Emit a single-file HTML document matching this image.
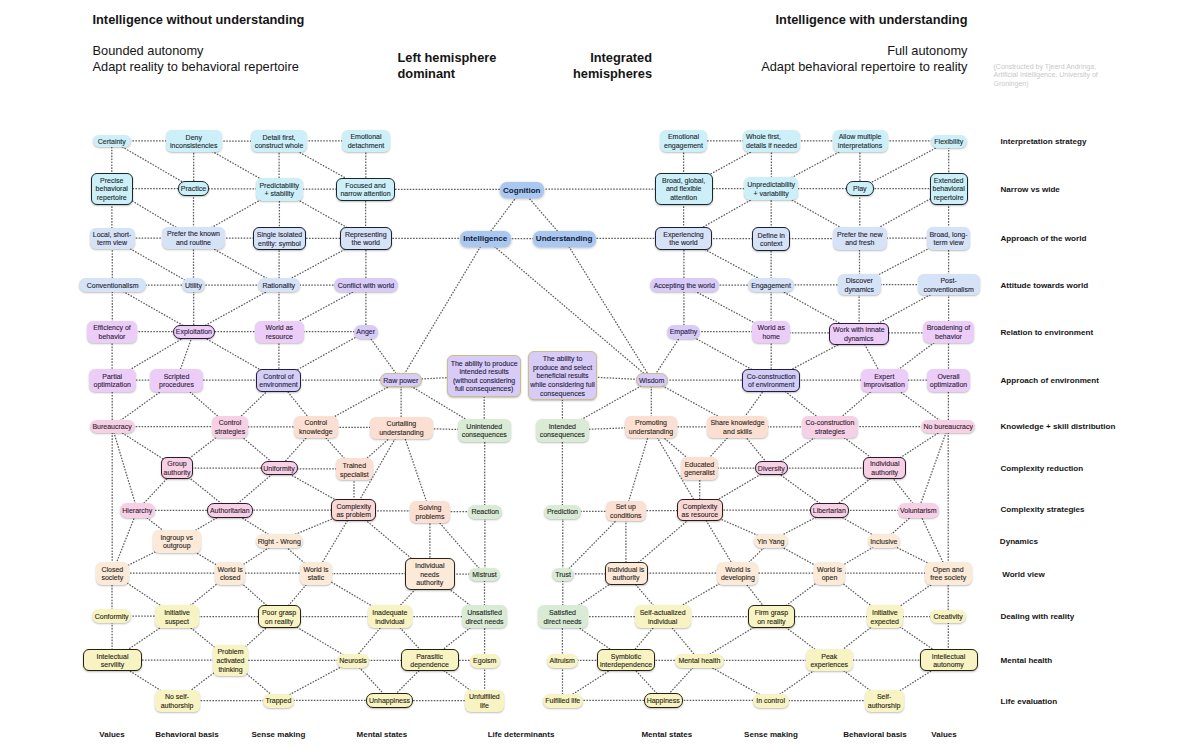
<!DOCTYPE html>
<html><head><meta charset="utf-8"><style>
*{margin:0;padding:0;box-sizing:border-box}
html,body{width:1200px;height:750px;overflow:hidden;background:#fff}
body{position:relative;font-family:"Liberation Sans",sans-serif;color:#151515}
svg{position:absolute;left:0;top:0}
svg line{stroke:#5e5e5e;stroke-width:1.25;stroke-dasharray:1.6 1.35}
.n{position:absolute;display:flex;align-items:center;justify-content:center;text-align:center;font-size:7px;line-height:8.6px;border-radius:5px;box-shadow:0 1px 2px rgba(0,0,0,0.26);white-space:nowrap}
.n.b{border-width:1.6px;border-style:solid}
.n.bd{font-weight:bold;font-size:8px}
.n.bd span{-webkit-text-stroke:0}
.n span{display:block;position:relative;top:1.1px;-webkit-text-stroke:0.1px currentColor}
.cy{background:#cdeff8;color:#17282c;border-color:#17282c}
.lb{background:#d6e3f7;color:#1a2030;border-color:#1a2030}
.pu{background:#d9cbf8;color:#221a40;border-color:#221a40}
.pp{background:#ebcdf7;color:#2c1a38;border-color:#2c1a38}
.bp{background:#d4cdf6;color:#221c40;border-color:#221c40}
.pk{background:#d8ccf6;color:#221a40;border-color:#221a40}
.pi{background:#f6d1e6;color:#301828;border-color:#301828}
.pe{background:#fbdfd2;color:#2c1e18;border-color:#2c1e18}
.sa{background:#f8d9d6;color:#2c1a1a;border-color:#2c1a1a}
.gr{background:#d9ebd5;color:#18221a;border-color:#18221a}
.cr{background:#fbead8;color:#28221a;border-color:#28221a}
.ye{background:#f7f3c3;color:#24220e;border-color:#24220e}
.bl{background:#aac8ef;color:#0e1a38;border-color:#0e1a38}
.n.n.pk{border:1.5px solid #c8c08c}
.n.bl{box-shadow:0 1px 3px rgba(20,40,90,0.35)}
.rl{position:absolute;left:1000.5px;font-size:8.1px;font-weight:bold;line-height:12px;white-space:nowrap}
.cl{position:absolute;top:728.8px;width:120px;text-align:center;font-size:8px;font-weight:bold;line-height:12px;white-space:nowrap}
.h{position:absolute;font-size:12.8px;line-height:15.5px;white-space:nowrap}
.hb{font-weight:bold}
.cr_{position:absolute;left:993.5px;top:62.5px;font-size:7px;line-height:8.75px;color:#c8c8c8;white-space:nowrap}
</style></head><body>

<div class="h hb" style="left:92.5px;top:12.4px">Intelligence without understanding</div>
<div class="h" style="left:92.5px;top:43px">Bounded autonomy<br>Adapt reality to behavioral repertoire</div>
<div class="h hb" style="left:397.5px;top:50px">Left hemisphere<br>dominant</div>
<div class="h hb" style="left:552px;top:50px;width:100px;text-align:right">Integrated<br>hemispheres</div>
<div class="h hb" style="left:667.5px;top:12.4px;width:300px;text-align:right">Intelligence with understanding</div>
<div class="h" style="left:667.5px;top:43px;width:300px;text-align:right">Full autonomy<br>Adapt behavioral repertoire to reality</div>
<div class="cr_">(Constructed by Tjeerd Andringa,<br>Artificial Intelligence, University of<br>Groningen)</div>

<svg width="1200" height="750" viewBox="0 0 1200 750"><line x1="111.8" y1="140.9" x2="193.8" y2="140.9"/><line x1="193.8" y1="141.0" x2="279.0" y2="141.0"/><line x1="279.0" y1="140.9" x2="366.0" y2="140.9"/><line x1="683.5" y1="140.8" x2="771.5" y2="140.8"/><line x1="771.5" y1="140.8" x2="860.0" y2="140.8"/><line x1="860.0" y1="140.9" x2="948.8" y2="140.9"/><line x1="111.8" y1="140.8" x2="111.8" y2="188.6"/><line x1="111.8" y1="140.8" x2="193.5" y2="188.3"/><line x1="193.7" y1="141.0" x2="193.7" y2="188.3"/><line x1="193.8" y1="141.0" x2="279.2" y2="189.3"/><line x1="279.1" y1="141.0" x2="279.1" y2="189.3"/><line x1="279.0" y1="141.0" x2="365.5" y2="189.1"/><line x1="365.8" y1="140.8" x2="365.8" y2="189.1"/><line x1="683.6" y1="140.8" x2="683.6" y2="188.6"/><line x1="771.5" y1="140.8" x2="683.7" y2="188.6"/><line x1="771.4" y1="140.8" x2="771.4" y2="188.5"/><line x1="860.0" y1="140.8" x2="771.2" y2="188.5"/><line x1="859.9" y1="140.8" x2="859.9" y2="188.6"/><line x1="948.8" y1="141.1" x2="859.8" y2="188.6"/><line x1="948.7" y1="141.1" x2="948.7" y2="188.6"/><line x1="111.8" y1="188.5" x2="193.5" y2="188.5"/><line x1="193.5" y1="188.8" x2="279.2" y2="188.8"/><line x1="279.2" y1="189.2" x2="365.5" y2="189.2"/><line x1="365.5" y1="189.4" x2="521.8" y2="189.4"/><line x1="521.8" y1="189.2" x2="683.7" y2="189.2"/><line x1="683.7" y1="188.6" x2="771.2" y2="188.6"/><line x1="771.2" y1="188.5" x2="859.8" y2="188.5"/><line x1="859.8" y1="188.6" x2="948.7" y2="188.6"/><line x1="111.9" y1="188.6" x2="111.9" y2="238.4"/><line x1="111.8" y1="188.6" x2="193.5" y2="237.8"/><line x1="193.5" y1="188.3" x2="193.5" y2="237.8"/><line x1="279.2" y1="189.3" x2="193.5" y2="237.8"/><line x1="279.4" y1="189.3" x2="279.4" y2="238.5"/><line x1="279.2" y1="189.3" x2="365.8" y2="238.1"/><line x1="365.6" y1="189.1" x2="365.6" y2="238.1"/><line x1="521.8" y1="189.8" x2="485.2" y2="238.7"/><line x1="521.8" y1="189.8" x2="564.1" y2="238.7"/><line x1="683.6" y1="188.6" x2="683.6" y2="238.1"/><line x1="771.2" y1="188.5" x2="683.5" y2="238.1"/><line x1="771.2" y1="188.5" x2="771.2" y2="239.0"/><line x1="771.2" y1="188.5" x2="859.8" y2="238.1"/><line x1="859.8" y1="188.6" x2="859.8" y2="238.1"/><line x1="948.7" y1="188.6" x2="859.8" y2="238.1"/><line x1="948.6" y1="188.6" x2="948.6" y2="238.3"/><line x1="112.1" y1="238.1" x2="193.5" y2="238.1"/><line x1="193.5" y1="238.1" x2="279.5" y2="238.1"/><line x1="279.5" y1="238.3" x2="365.8" y2="238.3"/><line x1="365.8" y1="238.4" x2="485.2" y2="238.4"/><line x1="485.2" y1="238.7" x2="564.1" y2="238.7"/><line x1="564.1" y1="238.4" x2="683.5" y2="238.4"/><line x1="683.5" y1="238.5" x2="771.2" y2="238.5"/><line x1="771.2" y1="238.5" x2="859.8" y2="238.5"/><line x1="859.8" y1="238.2" x2="948.5" y2="238.2"/><line x1="112.3" y1="238.4" x2="112.3" y2="285.4"/><line x1="112.1" y1="238.4" x2="193.5" y2="285.0"/><line x1="193.5" y1="237.8" x2="193.5" y2="285.0"/><line x1="193.5" y1="237.8" x2="278.8" y2="285.0"/><line x1="279.1" y1="238.5" x2="279.1" y2="285.0"/><line x1="365.8" y1="238.1" x2="278.8" y2="285.0"/><line x1="365.9" y1="238.1" x2="365.9" y2="285.0"/><line x1="683.9" y1="238.1" x2="683.9" y2="285.4"/><line x1="683.5" y1="238.1" x2="771.0" y2="285.0"/><line x1="771.1" y1="239.0" x2="771.1" y2="285.0"/><line x1="859.5" y1="238.1" x2="859.5" y2="284.7"/><line x1="948.5" y1="238.3" x2="859.3" y2="284.7"/><line x1="948.6" y1="238.3" x2="948.6" y2="284.7"/><line x1="485.2" y1="238.7" x2="400.8" y2="380.0"/><line x1="485.2" y1="238.7" x2="651.7" y2="380.0"/><line x1="564.1" y1="238.7" x2="651.7" y2="380.0"/><line x1="112.6" y1="285.2" x2="193.5" y2="285.2"/><line x1="193.5" y1="285.0" x2="278.8" y2="285.0"/><line x1="278.8" y1="285.0" x2="366.0" y2="285.0"/><line x1="684.2" y1="285.2" x2="771.0" y2="285.2"/><line x1="771.0" y1="284.9" x2="859.3" y2="284.9"/><line x1="859.3" y1="284.7" x2="948.7" y2="284.7"/><line x1="112.3" y1="285.4" x2="112.3" y2="331.8"/><line x1="112.6" y1="285.4" x2="193.9" y2="331.7"/><line x1="193.7" y1="285.0" x2="193.7" y2="331.7"/><line x1="278.8" y1="285.0" x2="193.9" y2="331.7"/><line x1="279.0" y1="285.0" x2="279.0" y2="331.8"/><line x1="366.0" y1="285.0" x2="279.3" y2="331.8"/><line x1="365.9" y1="285.0" x2="365.9" y2="331.7"/><line x1="683.9" y1="285.4" x2="683.9" y2="331.7"/><line x1="684.2" y1="285.4" x2="771.2" y2="331.8"/><line x1="771.1" y1="285.0" x2="771.1" y2="331.8"/><line x1="771.0" y1="285.0" x2="858.9" y2="333.8"/><line x1="859.1" y1="284.7" x2="859.1" y2="333.8"/><line x1="948.7" y1="284.7" x2="858.9" y2="333.8"/><line x1="948.6" y1="284.7" x2="948.6" y2="331.8"/><line x1="112.0" y1="331.7" x2="193.9" y2="331.7"/><line x1="193.9" y1="331.7" x2="279.3" y2="331.7"/><line x1="279.3" y1="331.7" x2="365.7" y2="331.7"/><line x1="683.5" y1="331.7" x2="771.2" y2="331.7"/><line x1="771.2" y1="332.8" x2="858.9" y2="332.8"/><line x1="858.9" y1="332.8" x2="948.5" y2="332.8"/><line x1="112.1" y1="331.8" x2="112.1" y2="380.2"/><line x1="193.9" y1="331.7" x2="112.2" y2="380.2"/><line x1="193.9" y1="331.7" x2="176.5" y2="380.2"/><line x1="193.9" y1="331.7" x2="278.5" y2="380.2"/><line x1="278.9" y1="331.8" x2="278.9" y2="380.2"/><line x1="365.7" y1="331.7" x2="278.5" y2="380.2"/><line x1="365.7" y1="331.7" x2="400.8" y2="380.0"/><line x1="683.5" y1="331.7" x2="651.7" y2="380.0"/><line x1="683.5" y1="331.7" x2="771.2" y2="380.2"/><line x1="771.2" y1="331.8" x2="771.2" y2="380.2"/><line x1="858.9" y1="333.8" x2="771.2" y2="380.2"/><line x1="858.9" y1="333.8" x2="884.2" y2="380.2"/><line x1="948.5" y1="331.8" x2="884.2" y2="380.2"/><line x1="948.5" y1="331.8" x2="948.5" y2="380.2"/><line x1="112.2" y1="380.2" x2="176.5" y2="380.2"/><line x1="176.5" y1="380.2" x2="278.5" y2="380.2"/><line x1="278.5" y1="380.1" x2="400.8" y2="380.1"/><line x1="400.8" y1="380.0" x2="484.1" y2="375.8"/><line x1="562.5" y1="375.7" x2="651.7" y2="380.0"/><line x1="651.7" y1="380.1" x2="771.2" y2="380.1"/><line x1="771.2" y1="380.2" x2="884.2" y2="380.2"/><line x1="884.2" y1="380.2" x2="948.5" y2="380.2"/><line x1="112.2" y1="380.2" x2="112.2" y2="426.5"/><line x1="176.5" y1="380.2" x2="112.1" y2="426.5"/><line x1="176.5" y1="380.2" x2="230.0" y2="426.8"/><line x1="278.5" y1="380.2" x2="230.0" y2="426.8"/><line x1="278.5" y1="380.2" x2="315.9" y2="426.8"/><line x1="400.8" y1="380.0" x2="315.9" y2="426.8"/><line x1="401.1" y1="380.0" x2="401.1" y2="427.8"/><line x1="400.8" y1="380.0" x2="484.2" y2="430.3"/><line x1="484.2" y1="375.8" x2="484.2" y2="430.3"/><line x1="562.4" y1="375.7" x2="562.4" y2="430.3"/><line x1="651.7" y1="380.0" x2="562.3" y2="430.3"/><line x1="651.3" y1="380.0" x2="651.3" y2="426.9"/><line x1="651.7" y1="380.0" x2="737.5" y2="426.9"/><line x1="771.2" y1="380.2" x2="737.5" y2="426.9"/><line x1="771.2" y1="380.2" x2="829.9" y2="426.9"/><line x1="884.2" y1="380.2" x2="829.9" y2="426.9"/><line x1="884.2" y1="380.2" x2="948.2" y2="426.5"/><line x1="948.4" y1="380.2" x2="948.4" y2="426.5"/><line x1="112.1" y1="426.6" x2="230.0" y2="426.6"/><line x1="230.0" y1="426.8" x2="315.9" y2="426.8"/><line x1="315.9" y1="427.3" x2="401.4" y2="427.3"/><line x1="401.4" y1="427.8" x2="484.2" y2="430.3"/><line x1="562.3" y1="430.3" x2="651.0" y2="426.9"/><line x1="651.0" y1="426.9" x2="737.5" y2="426.9"/><line x1="737.5" y1="426.9" x2="829.9" y2="426.9"/><line x1="829.9" y1="426.7" x2="948.2" y2="426.7"/><line x1="112.1" y1="426.5" x2="177.0" y2="467.8"/><line x1="230.0" y1="426.8" x2="177.0" y2="467.8"/><line x1="230.0" y1="426.8" x2="279.1" y2="468.2"/><line x1="315.9" y1="426.8" x2="279.1" y2="468.2"/><line x1="315.9" y1="426.8" x2="354.3" y2="469.4"/><line x1="401.4" y1="427.8" x2="354.3" y2="469.4"/><line x1="651.0" y1="426.9" x2="699.5" y2="468.3"/><line x1="737.5" y1="426.9" x2="699.5" y2="468.3"/><line x1="737.5" y1="426.9" x2="771.2" y2="468.2"/><line x1="829.9" y1="426.9" x2="771.2" y2="468.2"/><line x1="829.9" y1="426.9" x2="884.7" y2="467.8"/><line x1="948.2" y1="426.5" x2="884.7" y2="467.8"/><line x1="112.1" y1="426.5" x2="137.3" y2="510.3"/><line x1="401.4" y1="427.8" x2="353.7" y2="510.1"/><line x1="401.4" y1="427.8" x2="430.0" y2="511.8"/><line x1="948.2" y1="426.5" x2="918.3" y2="510.3"/><line x1="651.0" y1="426.9" x2="625.8" y2="510.9"/><line x1="651.0" y1="426.9" x2="699.9" y2="510.1"/><line x1="112.2" y1="426.5" x2="112.2" y2="573.1"/><line x1="948.2" y1="426.5" x2="948.2" y2="573.1"/><line x1="177.0" y1="468.0" x2="279.1" y2="468.0"/><line x1="279.1" y1="468.8" x2="354.3" y2="468.8"/><line x1="699.5" y1="468.2" x2="771.2" y2="468.2"/><line x1="771.2" y1="468.0" x2="884.7" y2="468.0"/><line x1="177.0" y1="467.8" x2="137.3" y2="510.3"/><line x1="177.0" y1="467.8" x2="229.8" y2="510.3"/><line x1="279.1" y1="468.2" x2="229.8" y2="510.3"/><line x1="279.1" y1="468.2" x2="353.7" y2="510.1"/><line x1="354.0" y1="469.4" x2="354.0" y2="510.1"/><line x1="699.7" y1="468.3" x2="699.7" y2="510.1"/><line x1="771.2" y1="468.2" x2="699.9" y2="510.1"/><line x1="771.2" y1="468.2" x2="829.3" y2="510.3"/><line x1="884.7" y1="467.8" x2="829.3" y2="510.3"/><line x1="884.7" y1="467.8" x2="918.3" y2="510.3"/><line x1="137.3" y1="510.3" x2="229.8" y2="510.3"/><line x1="229.8" y1="510.2" x2="353.7" y2="510.2"/><line x1="353.7" y1="510.9" x2="430.0" y2="510.9"/><line x1="430.0" y1="511.7" x2="485.2" y2="511.7"/><line x1="562.5" y1="511.3" x2="625.8" y2="511.3"/><line x1="625.8" y1="510.5" x2="699.9" y2="510.5"/><line x1="699.9" y1="510.2" x2="829.3" y2="510.2"/><line x1="829.3" y1="510.3" x2="918.3" y2="510.3"/><line x1="484.7" y1="430.3" x2="484.7" y2="511.7"/><line x1="562.4" y1="430.3" x2="562.4" y2="511.7"/><line x1="137.3" y1="510.3" x2="176.8" y2="541.2"/><line x1="137.3" y1="510.3" x2="112.3" y2="573.1"/><line x1="229.8" y1="510.3" x2="176.8" y2="541.2"/><line x1="229.8" y1="510.3" x2="279.2" y2="541.0"/><line x1="353.7" y1="510.1" x2="279.2" y2="541.0"/><line x1="353.7" y1="510.1" x2="316.0" y2="573.1"/><line x1="353.7" y1="510.1" x2="429.8" y2="573.9"/><line x1="429.9" y1="511.8" x2="429.9" y2="573.9"/><line x1="430.0" y1="511.8" x2="484.5" y2="574.6"/><line x1="484.9" y1="511.7" x2="484.9" y2="574.6"/><line x1="562.8" y1="511.7" x2="562.8" y2="574.6"/><line x1="625.8" y1="510.9" x2="563.1" y2="574.6"/><line x1="625.9" y1="510.9" x2="625.9" y2="573.1"/><line x1="699.9" y1="510.1" x2="626.0" y2="573.1"/><line x1="699.9" y1="510.1" x2="737.8" y2="573.1"/><line x1="699.9" y1="510.1" x2="770.8" y2="541.0"/><line x1="829.3" y1="510.3" x2="770.8" y2="541.0"/><line x1="829.3" y1="510.3" x2="883.8" y2="541.0"/><line x1="918.3" y1="510.3" x2="883.8" y2="541.0"/><line x1="918.3" y1="510.3" x2="948.2" y2="573.1"/><line x1="176.8" y1="541.2" x2="112.3" y2="573.1"/><line x1="176.8" y1="541.2" x2="230.2" y2="573.1"/><line x1="279.2" y1="541.0" x2="230.2" y2="573.1"/><line x1="279.2" y1="541.0" x2="316.0" y2="573.1"/><line x1="770.8" y1="541.0" x2="737.8" y2="573.1"/><line x1="770.8" y1="541.0" x2="829.5" y2="573.1"/><line x1="883.8" y1="541.0" x2="829.5" y2="573.1"/><line x1="883.8" y1="541.0" x2="948.2" y2="573.1"/><line x1="112.3" y1="573.1" x2="230.2" y2="573.1"/><line x1="230.2" y1="573.1" x2="316.0" y2="573.1"/><line x1="316.0" y1="573.5" x2="429.8" y2="573.5"/><line x1="429.8" y1="574.2" x2="484.5" y2="574.2"/><line x1="563.1" y1="573.9" x2="626.0" y2="573.9"/><line x1="626.0" y1="573.1" x2="737.8" y2="573.1"/><line x1="737.8" y1="573.1" x2="829.5" y2="573.1"/><line x1="829.5" y1="573.1" x2="948.2" y2="573.1"/><line x1="112.0" y1="573.1" x2="112.0" y2="616.0"/><line x1="112.3" y1="573.1" x2="177.0" y2="616.5"/><line x1="230.2" y1="573.1" x2="177.0" y2="616.5"/><line x1="230.2" y1="573.1" x2="279.1" y2="616.5"/><line x1="316.0" y1="573.1" x2="279.1" y2="616.5"/><line x1="316.0" y1="573.1" x2="389.8" y2="616.5"/><line x1="429.8" y1="573.9" x2="389.8" y2="616.5"/><line x1="429.8" y1="573.9" x2="484.5" y2="616.5"/><line x1="484.5" y1="574.6" x2="484.5" y2="616.5"/><line x1="562.8" y1="574.6" x2="562.8" y2="616.5"/><line x1="626.0" y1="573.1" x2="562.5" y2="616.5"/><line x1="626.0" y1="573.1" x2="662.7" y2="616.5"/><line x1="737.8" y1="573.1" x2="662.7" y2="616.5"/><line x1="737.8" y1="573.1" x2="771.5" y2="616.5"/><line x1="829.5" y1="573.1" x2="771.5" y2="616.5"/><line x1="829.5" y1="573.1" x2="884.8" y2="616.5"/><line x1="948.2" y1="573.1" x2="884.8" y2="616.5"/><line x1="948.2" y1="573.1" x2="948.2" y2="616.6"/><line x1="111.7" y1="616.2" x2="177.0" y2="616.2"/><line x1="177.0" y1="616.5" x2="279.1" y2="616.5"/><line x1="279.1" y1="616.5" x2="389.8" y2="616.5"/><line x1="389.8" y1="616.5" x2="484.5" y2="616.5"/><line x1="562.5" y1="616.5" x2="662.7" y2="616.5"/><line x1="662.7" y1="616.5" x2="771.5" y2="616.5"/><line x1="771.5" y1="616.5" x2="884.8" y2="616.5"/><line x1="884.8" y1="616.5" x2="948.1" y2="616.5"/><line x1="112.1" y1="616.0" x2="112.1" y2="660.0"/><line x1="177.0" y1="616.5" x2="112.5" y2="660.0"/><line x1="177.0" y1="616.5" x2="230.5" y2="660.2"/><line x1="279.1" y1="616.5" x2="230.5" y2="660.2"/><line x1="279.1" y1="616.5" x2="353.0" y2="660.6"/><line x1="389.8" y1="616.5" x2="353.0" y2="660.6"/><line x1="389.8" y1="616.5" x2="429.6" y2="660.0"/><line x1="484.5" y1="616.5" x2="429.6" y2="660.0"/><line x1="484.6" y1="616.5" x2="484.6" y2="660.6"/><line x1="562.4" y1="616.5" x2="562.4" y2="660.6"/><line x1="562.5" y1="616.5" x2="626.0" y2="660.0"/><line x1="662.7" y1="616.5" x2="626.0" y2="660.0"/><line x1="662.7" y1="616.5" x2="699.4" y2="660.6"/><line x1="771.5" y1="616.5" x2="699.4" y2="660.6"/><line x1="771.5" y1="616.5" x2="829.2" y2="660.0"/><line x1="884.8" y1="616.5" x2="829.2" y2="660.0"/><line x1="884.8" y1="616.5" x2="948.5" y2="660.0"/><line x1="948.3" y1="616.6" x2="948.3" y2="660.0"/><line x1="112.5" y1="660.1" x2="230.5" y2="660.1"/><line x1="230.5" y1="660.4" x2="353.0" y2="660.4"/><line x1="353.0" y1="660.3" x2="429.6" y2="660.3"/><line x1="429.6" y1="660.3" x2="484.8" y2="660.3"/><line x1="562.2" y1="660.3" x2="626.0" y2="660.3"/><line x1="626.0" y1="660.3" x2="699.4" y2="660.3"/><line x1="699.4" y1="660.3" x2="829.2" y2="660.3"/><line x1="829.2" y1="660.0" x2="948.5" y2="660.0"/><line x1="112.5" y1="660.0" x2="177.0" y2="700.8"/><line x1="230.5" y1="660.2" x2="177.0" y2="700.8"/><line x1="230.5" y1="660.2" x2="278.4" y2="700.6"/><line x1="353.0" y1="660.6" x2="278.4" y2="700.6"/><line x1="353.0" y1="660.6" x2="389.5" y2="700.2"/><line x1="429.6" y1="660.0" x2="389.5" y2="700.2"/><line x1="429.6" y1="660.0" x2="484.4" y2="700.8"/><line x1="484.6" y1="660.6" x2="484.6" y2="700.8"/><line x1="562.5" y1="660.6" x2="562.5" y2="700.6"/><line x1="626.0" y1="660.0" x2="562.8" y2="700.6"/><line x1="626.0" y1="660.0" x2="663.1" y2="700.2"/><line x1="699.4" y1="660.6" x2="663.1" y2="700.2"/><line x1="699.4" y1="660.6" x2="770.6" y2="700.6"/><line x1="829.2" y1="660.0" x2="770.6" y2="700.6"/><line x1="829.2" y1="660.0" x2="884.1" y2="700.8"/><line x1="948.5" y1="660.0" x2="884.1" y2="700.8"/><line x1="177.0" y1="700.7" x2="278.4" y2="700.7"/><line x1="278.4" y1="700.4" x2="389.5" y2="700.4"/><line x1="389.5" y1="700.5" x2="484.4" y2="700.5"/><line x1="562.8" y1="700.4" x2="663.1" y2="700.4"/><line x1="663.1" y1="700.4" x2="770.6" y2="700.4"/><line x1="770.6" y1="700.7" x2="884.1" y2="700.7"/></svg>
<div class="n cy" style="left:93.0px;top:134.5px;width:37.6px;height:12.5px;border-radius:7px"><span>Certainty</span></div><div class="n cy" style="left:165.7px;top:130.0px;width:56.2px;height:22.0px;border-radius:6px"><span>Deny<br>inconsistencies</span></div><div class="n cy" style="left:251.0px;top:130.0px;width:56.0px;height:22.0px;border-radius:6px"><span>Detail first,<br>construct whole</span></div><div class="n cy" style="left:342.0px;top:129.5px;width:48.0px;height:22.5px;border-radius:6px"><span>Emotional<br>detachment</span></div><div class="n cy" style="left:660.0px;top:129.5px;width:47.0px;height:22.5px;border-radius:6px"><span>Emotional<br>engagement</span></div><div class="n cy" style="left:743.0px;top:129.5px;width:57.0px;height:22.5px;border-radius:6px"><span><span style="text-align:left;display:inline-block;top:0">Whole first,<br>details if needed</span></span></div><div class="n cy" style="left:832.5px;top:129.5px;width:55.1px;height:22.5px;border-radius:6px"><span>Allow multiple<br>interpretations</span></div><div class="n cy" style="left:931.0px;top:134.5px;width:35.5px;height:13.1px;border-radius:7px"><span>Flexibility</span></div><div class="n cy b" style="left:90.5px;top:172.6px;width:42.5px;height:32.1px;border-radius:6px"><span>Precise<br>behavioral<br>repertoire</span></div><div class="n cy b" style="left:178.0px;top:181.0px;width:31.0px;height:14.7px;border-radius:7px"><span>Practice</span></div><div class="n cy" style="left:255.5px;top:178.0px;width:47.5px;height:22.7px;border-radius:6px"><span>Predictability<br>+ stability</span></div><div class="n cy b" style="left:336.0px;top:177.6px;width:59.0px;height:23.1px;border-radius:6px"><span>Focused and<br>narrow attention</span></div><div class="n bl bd" style="left:500.0px;top:182.0px;width:43.5px;height:15.5px;border-radius:7px"><span>Cognition</span></div><div class="n cy b" style="left:654.6px;top:172.6px;width:58.1px;height:32.1px;border-radius:6px"><span>Broad, global,<br>and flexible<br>attention</span></div><div class="n cy" style="left:744.0px;top:177.0px;width:54.4px;height:23.0px;border-radius:6px"><span>Unpredictability<br>+ variability</span></div><div class="n cy b" style="left:846.0px;top:181.4px;width:27.6px;height:14.3px;border-radius:7px"><span>Play</span></div><div class="n cy b" style="left:929.6px;top:172.6px;width:38.1px;height:32.1px;border-radius:6px"><span>Extended<br>behavioral<br>repertoire</span></div><div class="n lb" style="left:89.5px;top:227.8px;width:45.2px;height:21.2px;border-radius:6px"><span>Local, short-<br>term view</span></div><div class="n lb" style="left:162.0px;top:226.5px;width:63.0px;height:22.5px;border-radius:6px"><span>Prefer the known<br>and routine</span></div><div class="n lb b" style="left:253.0px;top:227.0px;width:53.0px;height:23.0px;border-radius:6px"><span>Single isolated<br>entity: symbol</span></div><div class="n lb b" style="left:339.5px;top:226.5px;width:52.5px;height:23.1px;border-radius:6px"><span>Representing<br>the world</span></div><div class="n bl bd" style="left:460.0px;top:230.8px;width:50.5px;height:15.8px;border-radius:7px"><span>Intelligence</span></div><div class="n bl bd" style="left:532.5px;top:230.8px;width:63.2px;height:15.8px;border-radius:7px"><span>Understanding</span></div><div class="n lb b" style="left:655.0px;top:226.5px;width:57.0px;height:23.1px;border-radius:6px"><span>Experiencing<br>the world</span></div><div class="n lb b" style="left:752.0px;top:227.0px;width:38.4px;height:24.0px;border-radius:6px"><span>Define in<br>context</span></div><div class="n lb" style="left:832.5px;top:226.5px;width:54.5px;height:23.1px;border-radius:6px"><span>Prefer the new<br>and fresh</span></div><div class="n lb" style="left:927.0px;top:227.0px;width:43.0px;height:22.6px;border-radius:6px"><span>Broad, long-<br>term view</span></div><div class="n lb" style="left:78.8px;top:278.4px;width:67.6px;height:14.0px;border-radius:7px"><span>Conventionalism</span></div><div class="n lb" style="left:182.0px;top:278.0px;width:23.0px;height:14.0px;border-radius:7px"><span>Utility</span></div><div class="n lb" style="left:257.5px;top:278.0px;width:42.5px;height:14.0px;border-radius:7px"><span>Rationality</span></div><div class="n pu" style="left:334.0px;top:278.0px;width:64.0px;height:14.0px;border-radius:7px"><span>Conflict with world</span></div><div class="n pu" style="left:649.5px;top:278.4px;width:69.5px;height:14.0px;border-radius:7px"><span>Accepting the world</span></div><div class="n lb" style="left:748.0px;top:278.0px;width:46.0px;height:14.0px;border-radius:7px"><span>Engagement</span></div><div class="n lb" style="left:838.0px;top:274.0px;width:42.6px;height:21.4px;border-radius:6px"><span>Discover<br>dynamics</span></div><div class="n lb" style="left:917.6px;top:274.0px;width:62.1px;height:21.4px;border-radius:6px"><span>Post-<br>conventionalism</span></div><div class="n pp" style="left:87.0px;top:320.5px;width:50.0px;height:22.5px;border-radius:6px"><span>Efficiency of<br>behavior</span></div><div class="n pp b" style="left:172.8px;top:324.6px;width:42.2px;height:14.2px;border-radius:7px"><span>Exploitation</span></div><div class="n pp" style="left:255.0px;top:320.5px;width:48.6px;height:22.5px;border-radius:6px"><span>World as<br>resource</span></div><div class="n pu" style="left:353.8px;top:324.6px;width:23.8px;height:14.2px;border-radius:7px"><span>Anger</span></div><div class="n pu" style="left:667.0px;top:324.6px;width:33.0px;height:14.2px;border-radius:7px"><span>Empathy</span></div><div class="n pp" style="left:752.4px;top:320.5px;width:37.6px;height:22.5px;border-radius:6px"><span>World as<br>home</span></div><div class="n pp b" style="left:829.0px;top:322.5px;width:59.7px;height:22.5px;border-radius:6px"><span>Work with innate<br>dynamics</span></div><div class="n pp" style="left:923.0px;top:320.5px;width:51.0px;height:22.5px;border-radius:6px"><span>Broadening of<br>behavior</span></div><div class="n pp" style="left:88.8px;top:369.0px;width:46.9px;height:22.5px;border-radius:6px"><span>Partial<br>optimization</span></div><div class="n pp" style="left:150.0px;top:369.0px;width:53.0px;height:22.5px;border-radius:6px"><span>Scripted<br>procedures</span></div><div class="n bp b" style="left:256.0px;top:369.0px;width:45.0px;height:22.5px;border-radius:6px"><span>Control of<br>environment</span></div><div class="n pk" style="left:380.0px;top:373.0px;width:41.5px;height:14.0px;border-radius:7px"><span>Raw power</span></div><div class="n pk" style="left:447.3px;top:355.0px;width:73.7px;height:41.5px;border-radius:6px"><span>The ability to produce<br>intended results<br>(without considering<br>full consequences)</span></div><div class="n pk" style="left:528.0px;top:351.4px;width:69.0px;height:48.6px;border-radius:6px"><span>The ability to<br>produce and select<br>beneficial results<br>while considering full<br>consequences</span></div><div class="n pk" style="left:635.6px;top:373.0px;width:32.1px;height:14.0px;border-radius:7px"><span>Wisdom</span></div><div class="n bp b" style="left:742.4px;top:369.0px;width:57.6px;height:22.5px;border-radius:6px"><span>Co-construction<br>of environment</span></div><div class="n pp" style="left:860.5px;top:369.0px;width:47.5px;height:22.5px;border-radius:6px"><span>Expert<br>improvisation</span></div><div class="n pp" style="left:927.0px;top:369.0px;width:43.0px;height:22.5px;border-radius:6px"><span>Overall<br>optimization</span></div><div class="n pi" style="left:89.5px;top:420.0px;width:45.2px;height:13.0px;border-radius:7px"><span>Bureaucracy</span></div><div class="n pi" style="left:211.6px;top:415.8px;width:36.8px;height:22.0px;border-radius:6px"><span>Control<br>strategies</span></div><div class="n pe" style="left:294.0px;top:415.8px;width:43.7px;height:22.0px;border-radius:6px"><span>Control<br>knowledge</span></div><div class="n pe" style="left:370.0px;top:416.5px;width:62.8px;height:22.5px;border-radius:6px"><span>Curtailing<br>understanding</span></div><div class="n gr" style="left:458.0px;top:419.0px;width:52.5px;height:22.6px;border-radius:6px"><span>Unintended<br>consequences</span></div><div class="n gr" style="left:536.0px;top:419.0px;width:52.6px;height:22.6px;border-radius:6px"><span>Intended<br>consequences</span></div><div class="n pe" style="left:625.0px;top:415.8px;width:52.0px;height:22.2px;border-radius:6px"><span>Promoting<br>understanding</span></div><div class="n pe" style="left:707.0px;top:415.8px;width:61.0px;height:22.2px;border-radius:6px"><span>Share knowledge<br>and skills</span></div><div class="n pi" style="left:801.8px;top:415.8px;width:56.2px;height:22.2px;border-radius:6px"><span>Co-construction<br>strategies</span></div><div class="n pi" style="left:921.4px;top:420.0px;width:53.6px;height:13.0px;border-radius:7px"><span>No bureaucracy</span></div><div class="n pi b" style="left:160.7px;top:456.6px;width:32.6px;height:22.4px;border-radius:6px"><span>Group<br>authority</span></div><div class="n pi b" style="left:260.5px;top:461.0px;width:37.1px;height:14.4px;border-radius:7px"><span>Uniformity</span></div><div class="n pe" style="left:336.0px;top:458.4px;width:36.6px;height:22.1px;border-radius:6px"><span>Trained<br>specialist</span></div><div class="n pe" style="left:680.7px;top:456.6px;width:37.6px;height:23.4px;border-radius:6px"><span>Educated<br>generalist</span></div><div class="n pi b" style="left:755.0px;top:461.0px;width:32.5px;height:14.4px;border-radius:7px"><span>Diversity</span></div><div class="n pi b" style="left:863.0px;top:456.6px;width:43.4px;height:22.4px;border-radius:6px"><span>Individual<br>authority</span></div><div class="n pi" style="left:119.6px;top:503.0px;width:35.4px;height:14.6px;border-radius:7px"><span>Hierarchy</span></div><div class="n pi b" style="left:207.0px;top:503.0px;width:45.5px;height:14.6px;border-radius:7px"><span>Authoritarian</span></div><div class="n sa b" style="left:331.0px;top:498.8px;width:45.4px;height:22.6px;border-radius:6px"><span>Complexity<br>as problem</span></div><div class="n pe" style="left:410.0px;top:500.5px;width:40.0px;height:22.5px;border-radius:6px"><span>Solving<br>problems</span></div><div class="n gr" style="left:468.0px;top:504.6px;width:34.4px;height:14.2px;border-radius:7px"><span>Reaction</span></div><div class="n gr" style="left:544.3px;top:504.6px;width:36.3px;height:14.2px;border-radius:7px"><span>Prediction</span></div><div class="n pe" style="left:606.0px;top:500.5px;width:39.6px;height:20.9px;border-radius:6px"><span>Set up<br>conditions</span></div><div class="n sa b" style="left:677.0px;top:498.8px;width:45.8px;height:22.6px;border-radius:6px"><span>Complexity<br>as resource</span></div><div class="n pi b" style="left:810.0px;top:503.0px;width:38.6px;height:14.6px;border-radius:7px"><span>Libertarian</span></div><div class="n pi" style="left:897.6px;top:503.0px;width:41.4px;height:14.6px;border-radius:7px"><span>Voluntarism</span></div><div class="n cr" style="left:152.7px;top:529.6px;width:48.1px;height:23.1px;border-radius:6px"><span>Ingroup vs<br>outgroup</span></div><div class="n cr" style="left:255.5px;top:534.0px;width:47.5px;height:14.0px;border-radius:7px"><span>Right - Wrong</span></div><div class="n cr" style="left:754.0px;top:534.0px;width:33.5px;height:14.0px;border-radius:7px"><span>Yin Yang</span></div><div class="n cr" style="left:867.5px;top:534.0px;width:32.5px;height:14.0px;border-radius:7px"><span>Inclusive</span></div><div class="n cr" style="left:95.6px;top:561.5px;width:33.4px;height:23.3px;border-radius:6px"><span>Closed<br>society</span></div><div class="n cr" style="left:215.0px;top:561.5px;width:30.4px;height:23.3px;border-radius:6px"><span>World is<br>closed</span></div><div class="n cr" style="left:300.0px;top:561.5px;width:32.0px;height:23.3px;border-radius:6px"><span>World is<br>static</span></div><div class="n cr b" style="left:404.7px;top:558.0px;width:50.1px;height:31.8px;border-radius:6px"><span>Individual<br>needs<br>authority</span></div><div class="n gr" style="left:469.0px;top:567.7px;width:31.0px;height:13.8px;border-radius:7px"><span>Mistrust</span></div><div class="n gr" style="left:551.8px;top:567.7px;width:22.6px;height:13.8px;border-radius:7px"><span>Trust</span></div><div class="n cr b" style="left:604.5px;top:561.5px;width:43.1px;height:23.3px;border-radius:6px"><span>Individual is<br>authority</span></div><div class="n cr" style="left:717.3px;top:561.5px;width:41.1px;height:23.3px;border-radius:6px"><span>World is<br>developing</span></div><div class="n cr" style="left:814.0px;top:561.5px;width:31.0px;height:23.3px;border-radius:6px"><span>World is<br>open</span></div><div class="n cr" style="left:925.0px;top:561.5px;width:46.5px;height:23.3px;border-radius:6px"><span>Open and<br>free society</span></div><div class="n ye" style="left:92.0px;top:609.0px;width:39.4px;height:13.9px;border-radius:7px"><span>Conformity</span></div><div class="n ye" style="left:155.0px;top:605.0px;width:44.0px;height:23.0px;border-radius:6px"><span>Initiative<br>suspect</span></div><div class="n ye b" style="left:257.5px;top:605.0px;width:43.1px;height:23.0px;border-radius:6px"><span>Poor grasp<br>on reality</span></div><div class="n ye" style="left:367.6px;top:605.0px;width:44.4px;height:23.0px;border-radius:6px"><span>Inadequate<br>individual</span></div><div class="n gr" style="left:461.6px;top:605.0px;width:45.8px;height:23.0px;border-radius:6px"><span>Unsatisfied<br>direct needs</span></div><div class="n gr" style="left:537.5px;top:605.0px;width:50.1px;height:23.0px;border-radius:6px"><span>Satisfied<br>direct needs</span></div><div class="n ye" style="left:634.6px;top:605.0px;width:56.1px;height:23.0px;border-radius:6px"><span>Self-actualized<br>individual</span></div><div class="n ye b" style="left:747.9px;top:605.0px;width:47.1px;height:23.0px;border-radius:6px"><span>Firm grasp<br>on reality</span></div><div class="n ye" style="left:867.0px;top:605.0px;width:35.6px;height:23.0px;border-radius:6px"><span>Initiative<br>expected</span></div><div class="n ye" style="left:929.7px;top:609.8px;width:36.8px;height:13.6px;border-radius:7px"><span>Creativity</span></div><div class="n ye b" style="left:83.0px;top:648.8px;width:59.0px;height:22.5px;border-radius:6px"><span>Intelectual<br>servility</span></div><div class="n ye" style="left:213.0px;top:645.0px;width:35.0px;height:30.5px;border-radius:6px"><span>Problem<br>activated<br>thinking</span></div><div class="n ye" style="left:337.0px;top:653.8px;width:32.0px;height:13.8px;border-radius:7px"><span>Neurosis</span></div><div class="n ye b" style="left:400.5px;top:648.8px;width:58.2px;height:22.5px;border-radius:6px"><span>Parasitic<br>dependence</span></div><div class="n ye" style="left:470.0px;top:653.8px;width:29.5px;height:13.8px;border-radius:7px"><span>Egoism</span></div><div class="n ye" style="left:547.0px;top:653.8px;width:30.5px;height:13.8px;border-radius:7px"><span>Altruism</span></div><div class="n ye b" style="left:597.0px;top:648.8px;width:58.0px;height:22.5px;border-radius:6px"><span>Symbiotic<br>interdependence</span></div><div class="n ye" style="left:675.0px;top:653.8px;width:48.8px;height:13.8px;border-radius:7px"><span>Mental health</span></div><div class="n ye" style="left:806.0px;top:648.8px;width:46.5px;height:22.5px;border-radius:6px"><span>Peak<br>experiences</span></div><div class="n ye b" style="left:919.5px;top:648.8px;width:58.0px;height:22.5px;border-radius:6px"><span>Intellectual<br>autonomy</span></div><div class="n ye" style="left:154.5px;top:689.5px;width:45.0px;height:22.5px;border-radius:6px"><span>No self-<br>authorship</span></div><div class="n ye" style="left:263.0px;top:693.8px;width:30.8px;height:13.8px;border-radius:7px"><span>Trapped</span></div><div class="n ye b" style="left:366.0px;top:693.0px;width:47.0px;height:14.5px;border-radius:7px"><span>Unhappiness</span></div><div class="n ye" style="left:465.0px;top:689.5px;width:38.8px;height:22.5px;border-radius:6px"><span>Unfulfilled<br>life</span></div><div class="n ye" style="left:542.5px;top:693.8px;width:40.5px;height:13.8px;border-radius:7px"><span>Fulfilled life</span></div><div class="n ye b" style="left:643.8px;top:693.0px;width:38.8px;height:14.5px;border-radius:7px"><span>Happiness</span></div><div class="n ye" style="left:752.5px;top:693.8px;width:36.2px;height:13.8px;border-radius:7px"><span>In control</span></div><div class="n ye" style="left:864.5px;top:689.5px;width:39.2px;height:22.5px;border-radius:6px"><span>Self-<br>authorship</span></div>
<div class="rl" style="top:136.0px;margin-left:0px">Interpretation strategy</div><div class="rl" style="top:184.0px;margin-left:0px">Narrow vs wide</div><div class="rl" style="top:233.0px;margin-left:0px">Approach of the world</div><div class="rl" style="top:280.0px;margin-left:0px">Attitude towards world</div><div class="rl" style="top:326.8px;margin-left:0px">Relation to environment</div><div class="rl" style="top:375.0px;margin-left:0px">Approach of environment</div><div class="rl" style="top:421.2px;margin-left:0px">Knowledge + skill distribution</div><div class="rl" style="top:463.4px;margin-left:0px">Complexity reduction</div><div class="rl" style="top:504.2px;margin-left:0px">Complexity strategies</div><div class="rl" style="top:535.7px;margin-left:-0.7px">Dynamics</div><div class="rl" style="top:568.6px;margin-left:1.7px">World view</div><div class="rl" style="top:610.7px;margin-left:0px">Dealing with reality</div><div class="rl" style="top:654.6px;margin-left:0px">Mental health</div><div class="rl" style="top:695.6px;margin-left:0px">Life evaluation</div><div class="cl" style="left:52.0px">Values</div><div class="cl" style="left:127.0px">Behavioral basis</div><div class="cl" style="left:218.4px">Sense making</div><div class="cl" style="left:321.9px">Mental states</div><div class="cl" style="left:461.0px">Life determinants</div><div class="cl" style="left:606.8px">Mental states</div><div class="cl" style="left:711.0px">Sense making</div><div class="cl" style="left:815.0px">Behavioral basis</div><div class="cl" style="left:884.0px">Values</div>
</body></html>
